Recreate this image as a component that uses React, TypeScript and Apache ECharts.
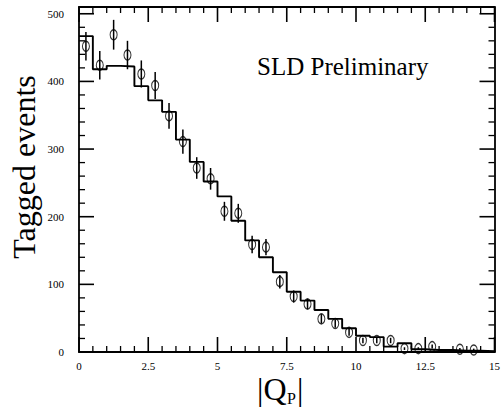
import React, { useEffect, useRef } from "react";
import * as echarts from "echarts";

// Histogram (simulation) bin edges and contents
const histEdges = [
  0, 0.5, 1, 1.5, 2, 2.5, 3, 3.5, 4, 4.5, 5, 5.5, 6, 6.5, 7, 7.5, 8, 8.5, 9, 9.5,
  10, 10.5, 11, 11.5, 12, 12.5, 13, 13.5, 14, 14.5, 15,
];
const histValues = [
  467, 418, 423, 422, 393, 372, 355, 314, 281, 252, 230, 194, 165, 140, 118, 89, 76, 62, 49, 35,
  24, 22, 8, 13, 4, 3, 3, 2, 2, 1,
];

// Data points with error bars
const pointX = [
  0.25, 0.75, 1.25, 1.75, 2.25, 2.75, 3.25, 3.75, 4.25, 4.75, 5.25, 5.75, 6.25, 6.75,
  7.25, 7.75, 8.25, 8.75, 9.25, 9.75, 10.25, 10.75, 11.25, 11.75, 12.25, 12.75, 13.75, 14.25,
];
const pointY = [
  452, 424, 469, 439, 411, 394, 349, 311, 272, 256, 208, 205, 159, 155,
  104, 82, 71, 49, 42, 29, 17, 17, 17, 5, 5, 8, 4, 3,
];
const pointErr = [
  21, 21, 22, 21, 20, 20, 19, 18, 16, 16, 14, 14, 13, 12,
  10, 9, 8, 7, 6, 5, 4, 4, 4, 2, 2, 3, 2, 2,
];

// Tick positions (frame ticks on all four sides)
const xMajorTicks = [0, 2.5, 5, 7.5, 10, 12.5, 15];
const xMinorTicks = [
  0.5, 1, 1.5, 2, 3, 3.5, 4, 4.5, 5.5, 6, 6.5, 7, 8, 8.5, 9, 9.5,
  10.5, 11, 11.5, 12, 13, 13.5, 14, 14.5,
];
const yMajorTicks = [0, 100, 200, 300, 400, 500];
const yMinorTicks = [
  20, 40, 60, 80, 120, 140, 160, 180, 220, 240, 260, 280, 320, 340, 360, 380,
  420, 440, 460, 480,
];

const titleText = "SLD Preliminary";
const yTitle = "Tagged events";

const FONT = "Liberation Serif";
const X_MIN = 0;
const X_MAX = 15;
const Y_MIN = 0;
const Y_MAX = 510;

export default function App() {
  const ref = useRef<HTMLDivElement>(null);

  useEffect(() => {
    if (!ref.current) return;
    const chart = echarts.init(ref.current, undefined, { renderer: "svg" });

    const histData: number[][] = histValues.map((v, i) => [histEdges[i], v]);
    histData.push([histEdges[histEdges.length - 1], histValues[histValues.length - 1]]);

    const pts = pointX.map((x, i) => [x, pointY[i], pointErr[i]]);

    const MAJOR = 15;
    const MINOR = 6;
    // [x value, y value, dx px, dy px, major flag]; every anchor lies on the frame
    const tickData: number[][] = [];
    xMajorTicks.forEach((v) => {
      tickData.push([v, Y_MIN, 0, -MAJOR, 1]);
      tickData.push([v, Y_MAX, 0, MAJOR, 1]);
    });
    xMinorTicks.forEach((v) => {
      tickData.push([v, Y_MIN, 0, -MINOR, 0]);
      tickData.push([v, Y_MAX, 0, MINOR, 0]);
    });
    yMajorTicks.forEach((v) => {
      tickData.push([X_MIN, v, MAJOR, 0, 1]);
      tickData.push([X_MAX, v, -MAJOR, 0, 1]);
    });
    yMinorTicks.forEach((v) => {
      tickData.push([X_MIN, v, MINOR, 0, 0]);
      tickData.push([X_MAX, v, -MINOR, 0, 0]);
    });

    const axisLine = { show: true, onZero: false, lineStyle: { color: "#000", width: 1.8 } };

    chart.setOption({
      animation: false,
      grid: { left: 79, top: 7, width: 420, height: 345 },
      xAxis: [
        {
          type: "value",
          min: X_MIN,
          max: X_MAX,
          interval: 2.5,
          axisLine,
          axisTick: { show: false },
          splitLine: { show: false },
          axisLabel: {
            margin: 8,
            fontFamily: FONT,
            fontSize: 11,
            color: "#000",
            formatter: (v: number) => String(v),
          },
        },
        {
          type: "value",
          position: "top",
          min: X_MIN,
          max: X_MAX,
          interval: 2.5,
          axisLine,
          axisTick: { show: false },
          splitLine: { show: false },
          axisLabel: { show: false },
        },
      ],
      yAxis: [
        {
          type: "value",
          min: Y_MIN,
          max: Y_MAX,
          interval: 100,
          axisLine,
          axisTick: { show: false },
          splitLine: { show: false },
          axisLabel: {
            margin: 15,
            fontFamily: FONT,
            fontSize: 11,
            color: "#000",
            showMaxLabel: false,
            formatter: (v: number) => (v % 100 === 0 ? String(v) : ""),
          },
        },
        {
          type: "value",
          position: "right",
          min: Y_MIN,
          max: Y_MAX,
          interval: 100,
          axisLine,
          axisTick: { show: false },
          splitLine: { show: false },
          axisLabel: { show: false },
        },
      ],
      series: [
        {
          type: "line",
          xAxisIndex: 0,
          yAxisIndex: 0,
          step: "end",
          data: histData,
          symbol: "none",
          lineStyle: { color: "#000", width: 1.9 },
          z: 2,
        },
        {
          type: "custom",
          xAxisIndex: 0,
          yAxisIndex: 0,
          data: pts,
          renderItem: (params: any, api: any) => {
            const x = api.value(0);
            const y = api.value(1);
            const e = api.value(2);
            const p1 = api.coord([x, y + e]);
            const p2 = api.coord([x, Math.max(0, y - e)]);
            return {
              type: "line",
              shape: { x1: p1[0], y1: p1[1], x2: p2[0], y2: p2[1] },
              style: { stroke: "#000", lineWidth: 1.5 },
            };
          },
          z: 3,
        },
        {
          type: "scatter",
          xAxisIndex: 0,
          yAxisIndex: 0,
          data: pts.map((p) => [p[0], p[1]]),
          symbol: "circle",
          symbolSize: [7, 10],
          itemStyle: { color: "rgba(255,255,255,0)", borderColor: "#000", borderWidth: 1.2 },
          z: 4,
        },
        {
          type: "custom",
          xAxisIndex: 0,
          yAxisIndex: 0,
          data: tickData,
          encode: { x: 0, y: 1 },
          renderItem: (params: any, api: any) => {
            const p = api.coord([api.value(0), api.value(1)]);
            const dx = api.value(2);
            const dy = api.value(3);
            const major = api.value(4) === 1;
            return {
              type: "line",
              shape: { x1: p[0], y1: p[1], x2: p[0] + dx, y2: p[1] + dy },
              style: { stroke: "#000", lineWidth: major ? 1.6 : 1.3 },
            };
          },
          z: 6,
        },
      ],
      graphic: [
        {
          type: "text",
          x: 257,
          y: 66,
          style: {
            text: titleText,
            fontFamily: FONT,
            fontSize: 25,
            fill: "#000",
            align: "left",
            verticalAlign: "middle",
          },
        },
        {
          type: "text",
          x: 24,
          y: 167,
          rotation: Math.PI / 2,
          style: {
            text: yTitle,
            fontFamily: FONT,
            fontSize: 32,
            fill: "#000",
            align: "center",
            verticalAlign: "middle",
          },
        },
        {
          type: "text",
          x: 257,
          y: 389,
          style: {
            text: "|Q",
            fontFamily: FONT,
            fontSize: 32,
            fill: "#000",
            align: "left",
            verticalAlign: "middle",
          },
        },
        {
          type: "text",
          x: 287,
          y: 398,
          style: {
            text: "P",
            fontFamily: FONT,
            fontSize: 16,
            fill: "#000",
            align: "left",
            verticalAlign: "middle",
          },
        },
        {
          type: "text",
          x: 297,
          y: 389,
          style: {
            text: "|",
            fontFamily: FONT,
            fontSize: 32,
            fill: "#000",
            align: "left",
            verticalAlign: "middle",
          },
        },
      ],
    });

    return () => chart.dispose();
  }, []);

  return (
    <div
      ref={ref}
      style={{ position: "absolute", left: 0, top: 0, width: 503, height: 408 }}
    />
  );
}
